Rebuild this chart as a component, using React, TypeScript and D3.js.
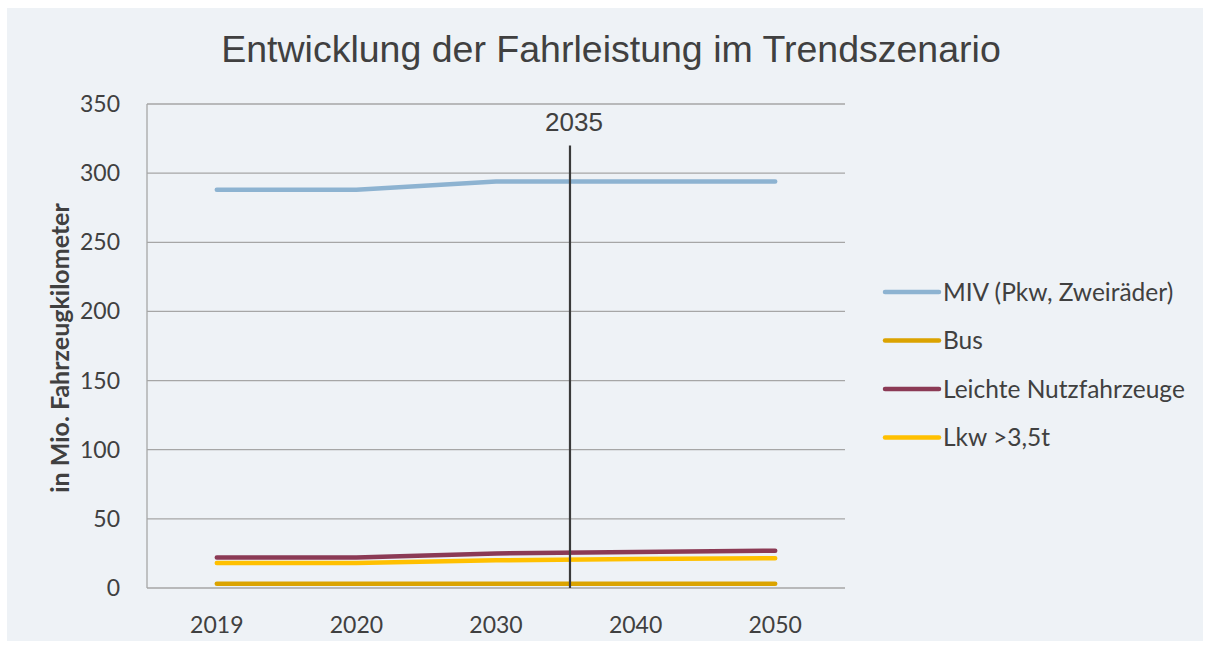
import React, { useEffect, useRef } from 'react';
import * as d3 from 'd3';

const years = ['2019', '2020', '2030', '2040', '2050'];
const seriesNames = ['MIV (Pkw, Zweiräder)', 'Bus', 'Leichte Nutzfahrzeuge', 'Lkw >3,5t'];
const seriesColors = ['#8db3d1', '#dba300', '#8b3a55', '#ffc000'];
const mivValues = [288, 288, 294, 294, 294];
const busValues = [3, 3, 3, 3, 3];
const lnfValues = [22, 22, 25, 26, 27];
const lkwValues = [18, 18, 20, 21, 21.5];
const yTicks = [0, 50, 100, 150, 200, 250, 300, 350];
const markerLabel = '2035';
const markerIndex = 2.53; // position between 2030 and 2040 (in category units)
const markerTop = 320;

const App: React.FC = () => {
  const svgRef = useRef<SVGSVGElement>(null);

  useEffect(() => {
    if (!svgRef.current) return;
    const svg = d3.select(svgRef.current);
    svg.selectAll('*').remove();

    const width = 1208;
    const height = 648;
    const margin = { top: 104, right: 363, bottom: 60, left: 147 };
    const innerW = width - margin.left - margin.right;
    const innerH = height - margin.top - margin.bottom;

    // chart background
    svg.append('rect')
      .attr('x', 7).attr('y', 8)
      .attr('width', 1196).attr('height', 633)
      .attr('fill', '#eef2f6');

    svg.append('text')
      .attr('x', 611).attr('y', 62)
      .attr('text-anchor', 'middle')
      .style('font-family', '"Liberation Sans", Arial, sans-serif')
      .style('font-size', '37.5px')
      .style('fill', '#404040')
      .text('Entwicklung der Fahrleistung im Trendszenario');

    const g = svg.append('g').attr('transform', `translate(${margin.left},${margin.top})`);

    const x = d3.scaleBand().domain(years).range([0, innerW]);
    const y = d3.scaleLinear().domain([0, 350]).range([innerH, 0]);
    const xc = (i: number) => x.bandwidth() * (i + 0.5);

    // grid
    g.selectAll('.grid')
      .data(yTicks)
      .enter()
      .append('line')
      .attr('x1', 0).attr('x2', innerW)
      .attr('y1', d => y(d)).attr('y2', d => y(d))
      .attr('stroke', '#a6a6a6')
      .attr('stroke-width', 1.3);

    g.append('line')
      .attr('x1', 0).attr('x2', 0)
      .attr('y1', 0).attr('y2', innerH)
      .attr('stroke', '#a6a6a6')
      .attr('stroke-width', 1.3);

    const tickFont = 'Lato, "Open Sans", sans-serif';

    g.selectAll('.ytick')
      .data(yTicks)
      .enter()
      .append('text')
      .attr('x', -27)
      .attr('y', d => y(d))
      .attr('dy', '0.35em')
      .attr('text-anchor', 'end')
      .style('font-family', tickFont)
      .style('font-size', '23px')
      .style('fill', '#404040')
      .text(d => d);

    g.selectAll('.xtick')
      .data(years)
      .enter()
      .append('text')
      .attr('x', (_d, i) => xc(i))
      .attr('y', innerH + 45)
      .attr('text-anchor', 'middle')
      .style('font-family', tickFont)
      .style('font-size', '23px')
      .style('fill', '#404040')
      .text(d => d);

    svg.append('text')
      .attr('transform', `translate(69,${margin.top + innerH / 2 + 2}) rotate(-90)`)
      .attr('text-anchor', 'middle')
      .style('font-family', tickFont)
      .style('font-size', '25px')
      .style('font-weight', 'bold')
      .style('fill', '#404040')
      .text('in Mio. Fahrzeugkilometer');

    const allSeries = [mivValues, busValues, lnfValues, lkwValues];
    const line = d3.line<number>()
      .x((_d, i) => xc(i))
      .y(d => y(d));

    // draw in order so that bus sits on top like the reference
    [0, 2, 3, 1].forEach(k => {
      g.append('path')
        .datum(allSeries[k])
        .attr('fill', 'none')
        .attr('stroke', seriesColors[k])
        .attr('stroke-width', 4.5)
        .attr('stroke-linecap', 'round')
        .attr('stroke-linejoin', 'round')
        .attr('d', line);
    });

    // 2035 marker
    const mx = xc(markerIndex);
    g.append('line')
      .attr('x1', mx).attr('x2', mx)
      .attr('y1', y(markerTop)).attr('y2', innerH)
      .attr('stroke', '#3a3a3a')
      .attr('stroke-width', 2.2);
    g.append('text')
      .attr('x', mx + 4)
      .attr('y', y(markerTop) - 14)
      .attr('text-anchor', 'middle')
      .style('font-family', '"Liberation Sans", Arial, sans-serif')
      .style('font-size', '26px')
      .style('fill', '#404040')
      .text(markerLabel);

    // legend
    const legend = svg.append('g').attr('transform', 'translate(885,292)');
    seriesNames.forEach((name, i) => {
      const row = legend.append('g').attr('transform', `translate(0,${i * 48.5})`);
      row.append('line')
        .attr('x1', 0).attr('x2', 54)
        .attr('y1', 0).attr('y2', 0)
        .attr('stroke', seriesColors[i])
        .attr('stroke-width', 4.5)
        .attr('stroke-linecap', 'round');
      row.append('text')
        .attr('x', 58)
        .attr('y', 0)
        .attr('dy', '0.35em')
        .style('font-family', tickFont)
        .style('font-size', '24.5px')
        .style('fill', '#404040')
        .text(name);
    });
  }, []);

  return (
    <svg
      ref={svgRef}
      width={1208}
      height={648}
      style={{ position: 'absolute', left: 0, top: 0, background: '#ffffff' }}
    />
  );
};

export default App;
